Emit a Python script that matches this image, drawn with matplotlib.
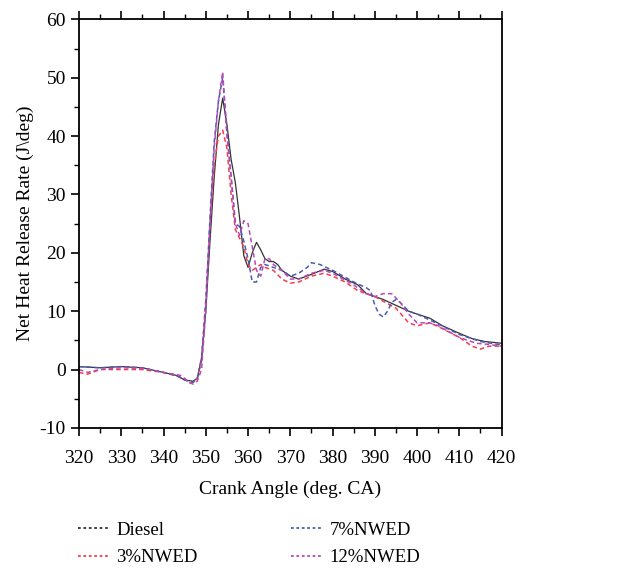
import matplotlib
matplotlib.use("Agg")
import matplotlib.pyplot as plt
from matplotlib.lines import Line2D
from matplotlib.ticker import MultipleLocator

plt.rcParams['font.family'] = ['Liberation Serif', 'DejaVu Serif']

# Data
diesel_x = [320, 325, 330, 335, 340, 343, 345, 347, 348, 349, 350, 351, 352, 353, 354, 355, 356, 357, 358, 359,
            360, 361, 362, 363, 364, 365, 366, 367, 368, 370, 372, 375, 378, 380, 383, 386, 388, 390, 392, 395,
            398, 400, 403, 406, 410, 413, 416, 420]
diesel_y = [0.5, 0.3, 0.5, 0.3, -0.5, -1.0, -1.8, -2.0, -1.5, 2.0, 10, 22, 33, 42, 46.5, 42, 36, 32, 26, 19.5,
            17.5, 20, 21.8, 20.5, 19, 18.5, 18.5, 18, 17, 16, 15.5, 16.3, 17.2, 16.8, 15.5, 14.5, 13, 12.5, 12, 11,
            10, 9.5, 8.8, 7.5, 6.2, 5.3, 4.8, 4.5]

nw3_x = [320, 322, 325, 330, 335, 340, 345, 346, 347, 348, 349, 350, 351, 352, 353, 354, 355, 356, 357, 358,
         359, 360, 361, 362, 363, 364, 366, 368, 370, 372, 375, 378, 380, 383, 386, 390, 395, 398, 400, 403,
         406, 410, 413, 415, 417, 420]
nw3_y = [-0.5, -0.8, 0.0, 0.0, 0.0, -0.5, -1.5, -2.3, -2.2, -1.5, 2.0, 12, 25, 35, 40, 41, 38, 30, 24, 22.5,
         21, 18, 17, 17.5, 18, 17.5, 17, 15.5, 14.8, 15, 16, 16.5, 16, 15, 13.5, 12.5, 10.5, 8, 7.5, 8,
         7, 5.5, 4, 3.5, 4, 4]

nw7_x = [320, 325, 330, 335, 340, 343, 345, 347, 348, 349, 350, 351, 352, 353, 354, 355, 356, 357, 358, 359,
         360, 361, 362, 363, 364, 366, 368, 370, 372, 374, 375, 377, 380, 385, 388, 389, 390, 391, 392, 393,
         394, 395, 396, 398, 400, 405, 410, 415, 420]
nw7_y = [0.5, 0.3, 0.5, 0.3, -0.5, -1.0, -1.8, -2.2, -1.5, 1.5, 11, 26, 39, 46, 50, 41, 33, 25, 24.5, 22,
         19, 15, 15, 17.5, 18, 17.5, 17, 16, 16.5, 17.5, 18.3, 18, 17, 15, 14, 13.5, 11, 9.5, 9, 10,
         11.5, 12, 11.5, 10, 9.5, 7.8, 6, 4.8, 4.2]

nw12_x = [320, 322, 325, 330, 335, 340, 344, 346, 347, 348, 349, 350, 351, 352, 353, 354, 355, 356, 357, 358,
          359, 360, 361, 362, 363, 364, 365, 366, 368, 370, 372, 375, 378, 380, 385, 388, 390, 392, 394, 396,
          398, 400, 403, 405, 410, 414, 417, 420]
nw12_y = [0.0, -0.5, 0.0, 0.3, 0.2, -0.5, -1.0, -2.2, -2.5, -2.0, 0.0, 10, 25, 38, 46, 51, 40, 33, 25, 23,
          25.5, 25, 21, 17, 16, 19, 19, 18, 17, 15.5, 15.5, 16.5, 17, 16.5, 14.5, 13, 12.5, 13, 13, 11.5,
          9.5, 8, 8, 7.5, 5.5, 4.5, 4.3, 4]

labels = ['Diesel', '3%NWED', '7%NWED', '12%NWED']
colors = ['#333333', '#f0404f', '#4a5cb0', '#b848b8']

fig = plt.figure(figsize=(6.17, 5.69), dpi=100)
ax = fig.add_axes([0.128, 0.248, 0.685, 0.718])

ax.plot(diesel_x, diesel_y, color=colors[0], lw=0.9, ls='-')
ax.plot(nw3_x, nw3_y, color=colors[1], lw=1.1, ls=(0, (3, 2)))
ax.plot(nw7_x, nw7_y, color=colors[2], lw=1.1, ls=(0, (3, 2)))
ax.plot(nw12_x, nw12_y, color=colors[3], lw=1.1, ls=(0, (3, 2)))

ax.set_xlim(320, 420)
ax.set_ylim(-10, 60)
ax.xaxis.set_major_locator(MultipleLocator(10))
ax.xaxis.set_minor_locator(MultipleLocator(5))
ax.yaxis.set_major_locator(MultipleLocator(10))
ax.yaxis.set_minor_locator(MultipleLocator(5))
ax.tick_params(which='both', direction='out', top=True, right=False, labelsize=14)
ax.tick_params(which='major', length=6, width=1.2)
ax.tick_params(which='minor', length=3.5, width=1.0)
ax.tick_params(axis='x', which='major', pad=10)
for s in ax.spines.values():
    s.set_linewidth(1.3)
ax.set_yticks([-10, 0, 10, 20, 30, 40, 50, 60])
ax.set_yticklabels(['-10', '0', '10', '20', '30', '40', '50', '60'])
ax.set_xlabel('Crank Angle (deg. CA)', fontsize=14, labelpad=10)
ax.set_ylabel('Net Heat Release Rate (J\\deg)', fontsize=14, labelpad=4)

handles = [Line2D([], [], color=c, lw=1.3, ls=(0, (1.5, 1.5))) for c in colors]
fig.legend(handles, labels,
           ncol=2, loc='upper left', bbox_to_anchor=(0.126, 0.083), frameon=False,
           borderpad=0, borderaxespad=0,
           fontsize=13.5, handlelength=1.7, columnspacing=5.0, labelspacing=0.55, handletextpad=0.35)

fig.savefig('out.png', dpi=100)
